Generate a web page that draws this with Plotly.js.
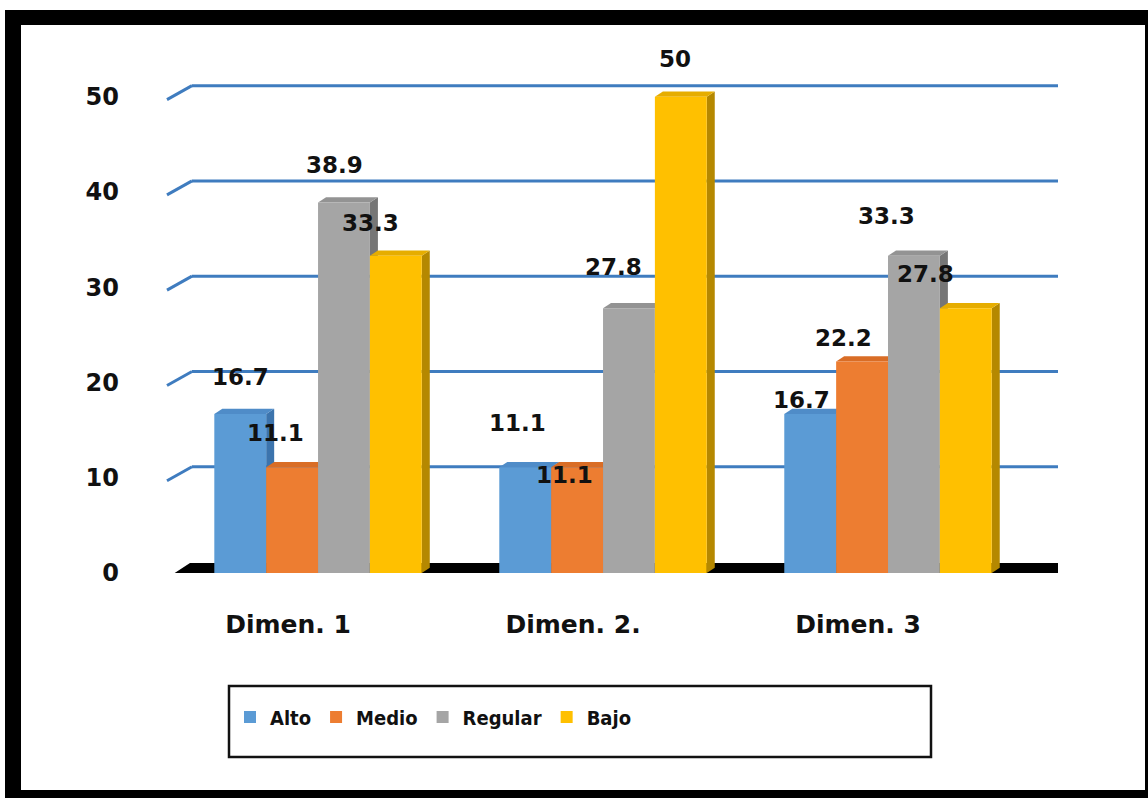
<!DOCTYPE html>
<html>
<head>
<meta charset="utf-8">
<script src="https://cdn.plot.ly/plotly-3.0.1.min.js"></script>
<style>
  html, body { margin: 0; padding: 0; background: #fff; }
  #chart { width: 1148px; height: 798px; }
</style>
</head>
<body>
<div id="chart"></div>
<script>
// ---- data ----
const categories = ['Dimen. 1', 'Dimen. 2.', 'Dimen. 3'];
const seriesNames = ['Alto', 'Medio', 'Regular', 'Bajo'];
const alto    = [16.7, 11.1, 16.7];
const medio   = [11.1, 11.1, 22.2];
const regular = [38.9, 27.8, 33.3];
const bajo    = [33.3, 50, 27.8];
const yTicks  = [0, 10, 20, 30, 40, 50];

// ---- styles ----
const frontColors = ['#5b9bd5', '#ed7d31', '#a5a5a5', '#ffc000'];
const sideColors  = ['#3c74ad', '#b95a1c', '#767676', '#b58800'];
const topColors   = ['#4f8cc8', '#d96d26', '#939393', '#e6ad00'];
// label offsets in pixels (dx right, dy down) relative to bar centre / top
const labelOffsets = [
  [[0, -37], [-8, -44], [-9, -14]],
  [[-17, -34], [-13, 8], [-19, -23]],
  [[-9, -37], [-15, -41], [-27, -40]],
  [[-25, -33], [-6, -38], [-40, -34]]
];

const seriesValues = [alto, medio, regular, bajo];

const W = 1148, H = 798;
const M = { l: 167, r: 89, t: 49, b: 225 };
const plotW = W - M.l - M.r, plotH = H - M.t - M.b;
const xRange = [-0.53, 2.6];
const yRange = [0, 55];
const pxPerX = plotW / (xRange[1] - xRange[0]);
const barW = 0.182;
const barOffsets = [-2 * barW, -barW, 0, barW];
const depthX = 8, depthY = 0.55;

const px2x = p => (p - M.l) / plotW;
const py2y = p => (H - M.b - p) / plotH;

const traces = seriesNames.map((name, s) => ({
  type: 'bar',
  name: name,
  x: categories,
  y: seriesValues[s],
  width: barW,
  offset: barOffsets[s],
  marker: { color: frontColors[s], line: { width: 0 } },
  hoverinfo: 'name+y'
}));

const shapes = [];
// back gridlines with slanted stubs
yTicks.forEach(v => {
  if (v === 0) return;
  shapes.push({
    type: 'line', layer: 'below', xref: 'paper', yref: 'y',
    xsizemode: 'pixel', xanchor: 0, x0: 0, x1: 25,
    ysizemode: 'pixel', yanchor: v, y0: -3, y1: 11,
    line: { color: '#3f7cbf', width: 3 }
  });
  shapes.push({
    type: 'line', layer: 'below', xref: 'paper', yref: 'y',
    xsizemode: 'pixel', xanchor: 0, x0: 25, x1: plotW - 1,
    ysizemode: 'pixel', yanchor: v, y0: 11, y1: 11,
    line: { color: '#3f7cbf', width: 3 }
  });
});
// grey line under floor
shapes.push({
  type: 'line', layer: 'below', xref: 'paper', yref: 'y',
  xsizemode: 'pixel', xanchor: 0, x0: 0, x1: plotW - 1,
  ysizemode: 'pixel', yanchor: 0, y0: -4, y1: -4,
  line: { color: '#b8b8b8', width: 2 }
});
// black floor
shapes.push({
  type: 'path', layer: 'below', xref: 'paper', yref: 'y',
  xsizemode: 'pixel', xanchor: 0, ysizemode: 'pixel', yanchor: 0,
  path: `M0,-5 L23,10 L${plotW - 1},10 L${plotW - 1},-1 L6,-1 Z`,
  fillcolor: '#000', line: { width: 0 }
});
// 3D side and top faces of the bars
const barWpx = barW * pxPerX;
seriesValues.forEach((vals, s) => {
  vals.forEach((v, g) => {
    const xl = g + barOffsets[s];
    shapes.push({
      type: 'path', layer: 'below', xref: 'x', yref: 'y',
      xsizemode: 'pixel', xanchor: xl + barW,
      path: `M0,0 L${depthX},${depthY} L${depthX},${v + depthY} L0,${v} Z`,
      fillcolor: sideColors[s], line: { width: 0 }
    });
    shapes.push({
      type: 'path', layer: 'below', xref: 'x', yref: 'y',
      xsizemode: 'pixel', xanchor: xl,
      path: `M0,${v} L${depthX},${v + depthY} L${barWpx + depthX},${v + depthY} L${barWpx},${v} Z`,
      fillcolor: topColors[s], line: { width: 0 }
    });
  });
});
// legend box
shapes.push({
  type: 'rect', xref: 'paper', yref: 'paper',
  x0: px2x(229), x1: px2x(931), y0: py2y(686), y1: py2y(757),
  line: { color: '#111', width: 2.5 }, fillcolor: 'rgba(0,0,0,0)'
});
// outer black frame
[[5, 21, 10, 798], [5, 1148, 10, 25], [1145, 1148, 10, 798], [5, 1148, 790, 798]].forEach(r => {
  shapes.push({
    type: 'rect', xref: 'paper', yref: 'paper',
    x0: px2x(r[0]), x1: px2x(r[1]), y0: py2y(r[3]), y1: py2y(r[2]),
    fillcolor: '#000', line: { width: 0 }
  });
});

// data labels
const annotations = [];
seriesValues.forEach((vals, s) => {
  vals.forEach((v, g) => {
    const off = labelOffsets[s][g];
    annotations.push({
      x: g + barOffsets[s] + barW / 2, y: v, xref: 'x', yref: 'y',
      text: String(v), showarrow: false,
      xanchor: 'center', yanchor: 'middle',
      xshift: off[0], yshift: -off[1],
      font: { family: 'DejaVu Sans, Verdana, sans-serif', size: 23, color: '#111', weight: 'bold' }
    });
  });
});

const layout = {
  width: W, height: H,
  margin: M,
  paper_bgcolor: '#fff', plot_bgcolor: 'rgba(0,0,0,0)',
  barmode: 'group',
  showlegend: true,
  legend: {
    orientation: 'h', x: px2x(230), xanchor: 'left', y: py2y(717), yanchor: 'middle',
    bgcolor: 'rgba(0,0,0,0)', borderwidth: 0,
    font: { family: 'DejaVu Sans Condensed, Liberation Sans Narrow, sans-serif', size: 20, color: '#111', weight: 'bold' }
  },
  xaxis: {
    type: 'category', range: xRange, showgrid: false, zeroline: false, showline: false,
    ticks: '', ticklabelstandoff: 34, ticklabelshift: -30,
    tickfont: { family: 'DejaVu Sans, Verdana, sans-serif', size: 25, color: '#111', weight: 'bold' },
    fixedrange: true
  },
  yaxis: {
    range: yRange, tickvals: yTicks, showgrid: false, zeroline: false, showline: false,
    ticks: '', ticklabelstandoff: 47,
    tickfont: { family: 'DejaVu Sans, Verdana, sans-serif', size: 24, color: '#111', weight: 'bold' },
    fixedrange: true
  },
  shapes: shapes,
  annotations: annotations
};

Plotly.newPlot('chart', traces, layout, { displayModeBar: false, staticPlot: true });
</script>
</body>
</html>
